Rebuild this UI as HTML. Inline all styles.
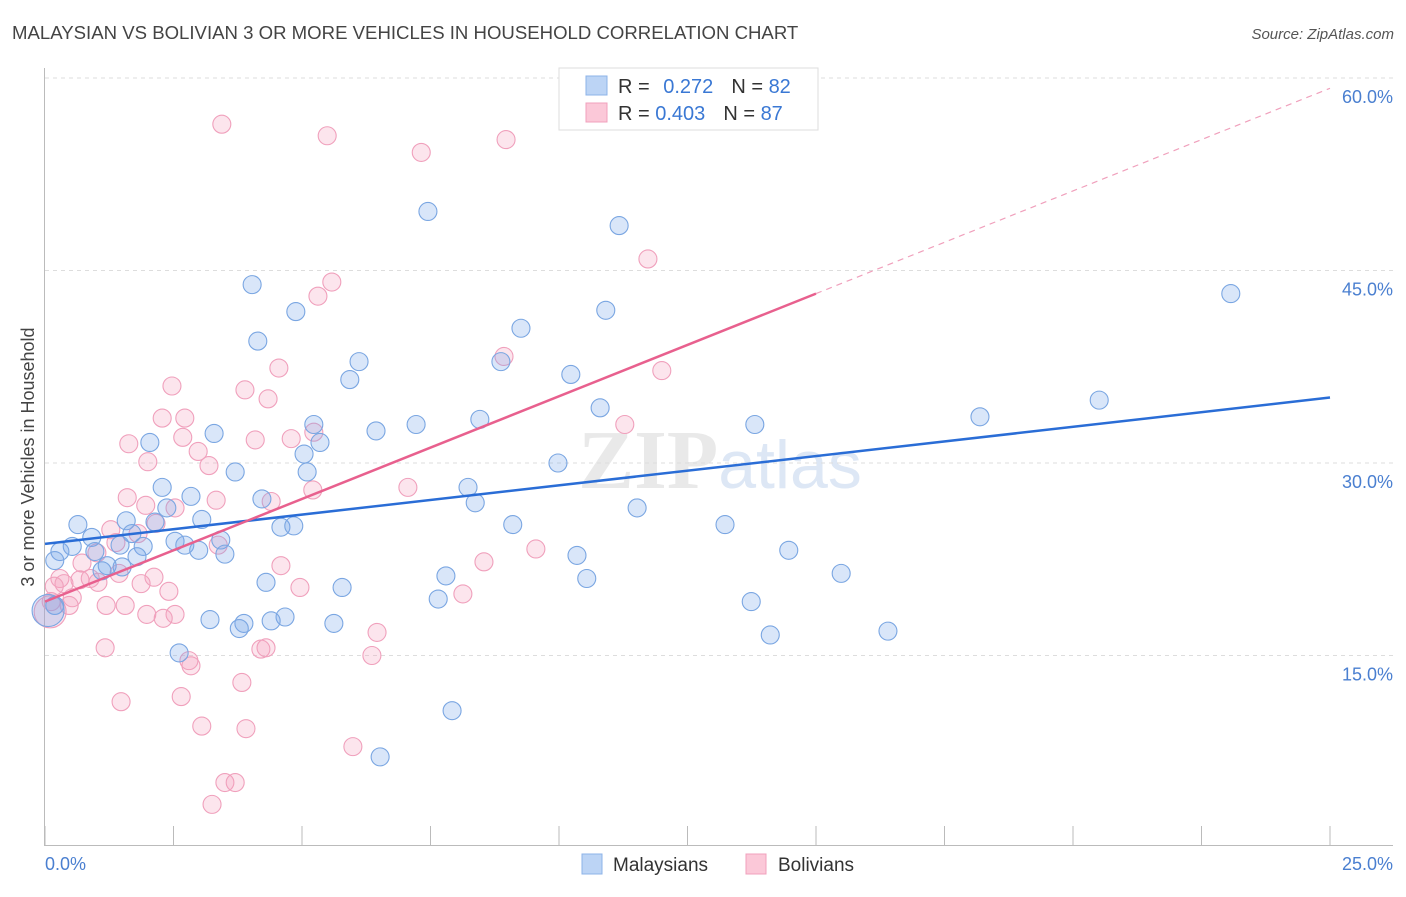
<!DOCTYPE html>
<html><head><meta charset="utf-8"><style>
body{margin:0;background:#fff;font-family:"Liberation Sans",sans-serif}
</style></head><body>
<svg id="chart" width="1406" height="892" xmlns="http://www.w3.org/2000/svg">
<text x="12" y="39" font-size="18.6" fill="#444">MALAYSIAN VS BOLIVIAN 3 OR MORE VEHICLES IN HOUSEHOLD CORRELATION CHART</text>
<text x="1394" y="39" font-size="15" fill="#555" font-style="italic" text-anchor="end">Source: ZipAtlas.com</text>
<text x="720" y="488" font-size="84" fill="#e9e9e9" text-anchor="middle" font-family="Liberation Serif,serif" font-weight="bold">ZIP<tspan fill="#dde7f5" font-family="Liberation Sans,sans-serif" font-weight="normal" font-size="68">atlas</tspan></text>
<text transform="translate(34,457) rotate(-90)" font-size="18" fill="#444" text-anchor="middle">3 or more Vehicles in Household</text>
<g id="grid"></g><g id="ticks"></g><g id="pts"></g><g id="lines"></g>
<g>
<rect x="559" y="68" width="259" height="62" fill="#fff" stroke="#ddd"/>
<rect x="586" y="76" width="21" height="19" fill="#bcd4f5" stroke="#8db3e8"/>
<rect x="586" y="103" width="21" height="19" fill="#fbc8d8" stroke="#f0a0bc"/>
<text x="618" y="93" font-size="20" fill="#333">R = <tspan fill="#3a78d4" dx="8">0.272</tspan><tspan dx="18" fill="#333">N = </tspan><tspan fill="#3a78d4">82</tspan></text>
<text x="618" y="120" font-size="20" fill="#333">R = <tspan fill="#3a78d4">0.403</tspan><tspan dx="18" fill="#333">N = </tspan><tspan fill="#3a78d4">87</tspan></text>
</g>
<g>
<rect x="582" y="854" width="20" height="20" fill="#bcd4f5" stroke="#8db3e8"/>
<text x="613" y="871" font-size="19" fill="#333">Malaysians</text>
<rect x="746" y="854" width="20" height="20" fill="#fbc8d8" stroke="#f0a0bc"/>
<text x="778" y="871" font-size="19" fill="#333">Bolivians</text>
</g>
</svg>
<script>
const xTicks=[0,2.5,5,7.5,10,12.5,15,17.5,20,22.5,25];
const yTicks=[15,30,45,60];
const blueX=[7.45,11.17,23.07,4.03,4.88,10.91,9.26,4.14,6.11,8.87,5.93,10.23,20.51,18.19,10.8,5.23,7.22,8.46,13.81,6.44,3.29,2.04,5.35,5.04,9.98,3.7,5.1,2.28,8.23,2.84,4.22,8.37,2.37,11.52,3.05,1.58,2.14,0.64,4.59,4.84,9.1,13.23,1.69,0.91,2.53,3.42,0.53,1.46,2.72,1.91,0.29,0.97,2.99,3.5,14.47,1.79,10.35,0.19,1.21,1.5,1.11,7.8,15.49,10.54,4.3,5.78,7.65,13.74,0.19,3.21,4.67,4.4,5.62,3.87,3.78,16.4,14.11,2.61,7.92,6.52,0.06];
const blueY=[49.6,48.5,43.2,43.9,41.8,41.9,40.5,39.5,37.9,37.9,36.5,36.9,34.9,33.6,34.3,33,33,33.4,33,32.5,32.3,31.6,31.6,30.7,30,29.3,29.3,28.1,28.1,27.4,27.2,26.9,26.5,26.5,25.6,25.5,25.4,25.2,25,25.1,25.2,25.2,24.5,24.2,23.9,24,23.5,23.6,23.6,23.5,23.1,23.1,23.2,22.9,23.2,22.7,22.8,22.4,22,21.9,21.6,21.2,21.4,21,20.7,20.3,19.4,19.2,18.9,17.8,18,17.7,17.5,17.5,17.1,16.9,16.6,15.2,10.7,7.1,18.5];
const pinkX=[3.44,5.49,8.97,7.32,11.73,5.58,5.31,8.93,4.55,12,2.47,3.89,4.34,2.28,2.72,11.28,5.23,4.79,2.68,4.09,1.63,2.98,2,3.19,7.06,5.21,1.6,3.33,4.4,1.96,2.53,2.16,1.28,1.81,1.38,3.37,9.55,1.01,0.72,8.54,4.59,1.44,0.29,2.12,0.88,0.68,0.37,1.03,1.87,0.18,4.96,2.41,8.13,0.53,0.12,1.19,1.56,0.47,1.98,2.53,2.3,6.46,1.17,4.2,4.3,6.36,2.8,2.84,3.83,2.65,1.48,3.05,3.91,5.99,3.5,3.7,3.25,0.1];
const pinkY=[56.4,55.5,55.2,54.2,45.9,44.1,43,38.3,37.4,37.2,36,35.7,35,33.5,33.5,33,32.4,31.9,32,31.8,31.5,30.9,30.1,29.8,28.1,27.9,27.3,27.1,27,26.7,26.5,25.3,24.8,24.5,23.8,23.6,23.3,23,22.2,22.3,22,21.4,21,21.1,21,20.9,20.6,20.7,20.6,20.4,20.3,20,19.8,19.5,19.2,18.9,18.9,18.9,18.2,18.2,17.9,16.8,15.6,15.5,15.6,15,14.6,14.2,12.9,11.8,11.4,9.5,9.3,7.9,5.1,5.1,3.4,18.4];
const blueLine=[[0,23.7],[25,35.1]];
const pinkLine=[[0,19.2],[15,43.2],[25,59.2]];
const NS='http://www.w3.org/2000/svg';
const sx=v=>45+v/25*1285, sy=v=>848-v/15*192.5;
function mk(t,a,p){const e=document.createElementNS(NS,t);for(const k in a)e.setAttribute(k,a[k]);p.appendChild(e);return e;}
const grid=document.getElementById('grid'),ticks=document.getElementById('ticks');
yTicks.forEach(v=>{
 const l=mk('line',{x1:45,x2:1393,y1:sy(v),y2:sy(v),stroke:'#ddd','stroke-dasharray':'4,4'},grid);
 
 
 const t=mk('text',{x:1393,y:sy(v)+25,'font-size':18,fill:'#4a7fd0','text-anchor':'end'},ticks);t.textContent=v.toFixed(1)+'%';
 
 
});
mk('line',{x1:44.5,x2:44.5,y1:68,y2:846,stroke:'#bbb'},grid);
mk('line',{x1:44,x2:1393,y1:845.5,y2:845.5,stroke:'#bbb'},grid);
xTicks.forEach(v=>{const l=mk('line',{x1:sx(v),x2:sx(v),y1:826,y2:846,stroke:'#bbb'},ticks);
 
 });
[[0,'0.0%','start',45],[25,'25.0%','end',1393]].forEach(([v,s,a,x])=>{const t=mk('text',{x:x,y:870,'font-size':18,fill:'#4a7fd0','text-anchor':a},ticks);t.textContent=s;
 
 });
const pts=document.getElementById('pts');
function draw(X,Y,f,s,name){X.forEach((x,i)=>{const big=i===X.length-1;const c=mk('circle',{cx:sx(x),cy:sy(Y[i]),r:big?16:9,fill:f,stroke:s,'stroke-width':1.1},pts);
 
 });}
draw(pinkX,pinkY,'rgba(245,160,190,0.28)','#f0a0bc','bolivian-point');
draw(blueX,blueY,'rgba(120,165,235,0.28)','#7aa6e2','malaysian-point');
const lines=document.getElementById('lines');
const bl=mk('line',{x1:sx(blueLine[0][0]),y1:sy(blueLine[0][1]),x2:sx(blueLine[1][0]),y2:sy(blueLine[1][1]),stroke:'#2a6dd6','stroke-width':2.5},lines);


const pl=mk('line',{x1:sx(pinkLine[0][0]),y1:sy(pinkLine[0][1]),x2:sx(pinkLine[1][0]),y2:sy(pinkLine[1][1]),stroke:'#e8608e','stroke-width':2.5},lines);


const pd=mk('line',{x1:sx(pinkLine[1][0]),y1:sy(pinkLine[1][1]),x2:sx(pinkLine[2][0]),y2:sy(pinkLine[2][1]),stroke:'#f0a0bc','stroke-width':1.2,'stroke-dasharray':'6,5'},lines);


</script>
</body></html>
